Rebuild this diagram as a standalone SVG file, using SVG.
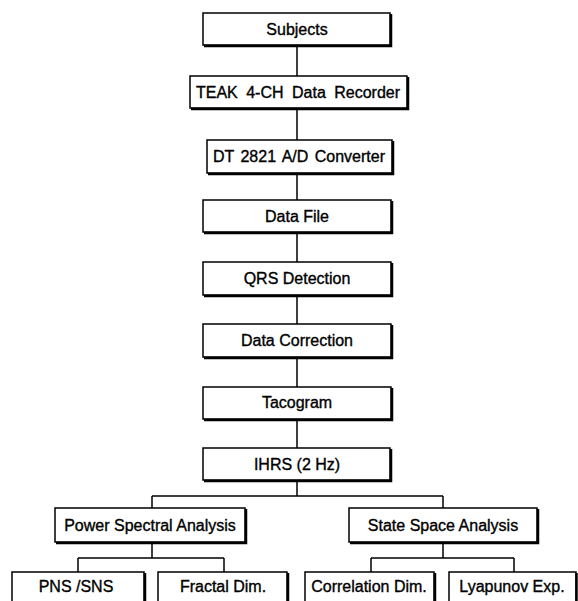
<svg xmlns="http://www.w3.org/2000/svg" width="578" height="601" viewBox="0 0 578 601">
<style>
.box{fill:#fff;stroke:#000;stroke-width:1.5}
.sh{fill:none;stroke:#000;stroke-width:2.5}
.t{font-family:"Liberation Sans",Arial,sans-serif;font-size:16px;fill:#000;stroke:#000;stroke-width:0.35;text-anchor:middle}
.c{fill:none;stroke:#000;stroke-width:1.5}
</style>
<rect width="578" height="601" fill="#fff"/>
<g id="connectors">
<path class="c" d="M297 45V76M297 108V140M297 173V200M297 232V262M297 295V324M297 357V387M297 419V448M297 480V496M152 496H443M152 496V508M443 496V508"/>
<path class="c" d="M152 542V558M78 558H224M78 558V572M224 558V572"/>
<path class="c" d="M443 542V558M371 558H514M371 558V572M514 558V572"/>
</g>
<g id="subjects"><rect class="box" x="203" y="13" width="187" height="32"/><path class="sh" d="M391 14V46H204"/><text class="t" x="297" y="35">Subjects</text></g>
<g id="teak"><rect class="box" x="190" y="76" width="217" height="32"/><path class="sh" d="M408 77V109H191"/><text class="t" x="298" y="98" style="word-spacing:4px">TEAK 4-CH Data Recorder</text></g>
<g id="dt2821"><rect class="box" x="207" y="140" width="185" height="33"/><path class="sh" d="M393 141V174H208"/><text class="t" x="299" y="162" style="word-spacing:2px">DT 2821 A/D Converter</text></g>
<g id="datafile"><rect class="box" x="203" y="200" width="188" height="32"/><path class="sh" d="M392 201V233H204"/><text class="t" x="297" y="222">Data File</text></g>
<g id="qrs"><rect class="box" x="203" y="262" width="188" height="33"/><path class="sh" d="M392 263V296H204"/><text class="t" x="297" y="284">QRS Detection</text></g>
<g id="datacorrection"><rect class="box" x="203" y="324" width="188" height="33"/><path class="sh" d="M392 325V358H204"/><text class="t" x="297" y="346">Data Correction</text></g>
<g id="tacogram"><rect class="box" x="203" y="387" width="188" height="32"/><path class="sh" d="M392 388V420H204"/><text class="t" x="297" y="408">Tacogram</text></g>
<g id="ihrs"><rect class="box" x="203" y="448" width="187" height="32"/><path class="sh" d="M391 449V481H204"/><text class="t" x="297" y="470">IHRS (2 Hz)</text></g>
<g id="psa"><rect class="box" x="55" y="508" width="190" height="34"/><path class="sh" d="M246 509V543H56"/><text class="t" x="150" y="531">Power Spectral Analysis</text></g>
<g id="ssa"><rect class="box" x="349" y="508" width="188" height="34"/><path class="sh" d="M538 509V543H350"/><text class="t" x="443" y="531">State Space Analysis</text></g>
<g id="pns"><rect class="box" x="12" y="572" width="132" height="40"/><path class="sh" d="M145 573V613"/><text class="t" x="76" y="592">PNS /SNS</text></g>
<g id="fractal"><rect class="box" x="158" y="572" width="129" height="40"/><path class="sh" d="M288 573V613"/><text class="t" x="223" y="592">Fractal Dim.</text></g>
<g id="correlation"><rect class="box" x="305" y="572" width="129" height="40"/><path class="sh" d="M435 573V613"/><text class="t" x="369" y="592">Correlation Dim.</text></g>
<g id="lyapunov"><rect class="box" x="449" y="572" width="127" height="40"/><path class="sh" d="M576.5 573V613"/><text class="t" x="512" y="592">Lyapunov Exp.</text></g>
</svg>
